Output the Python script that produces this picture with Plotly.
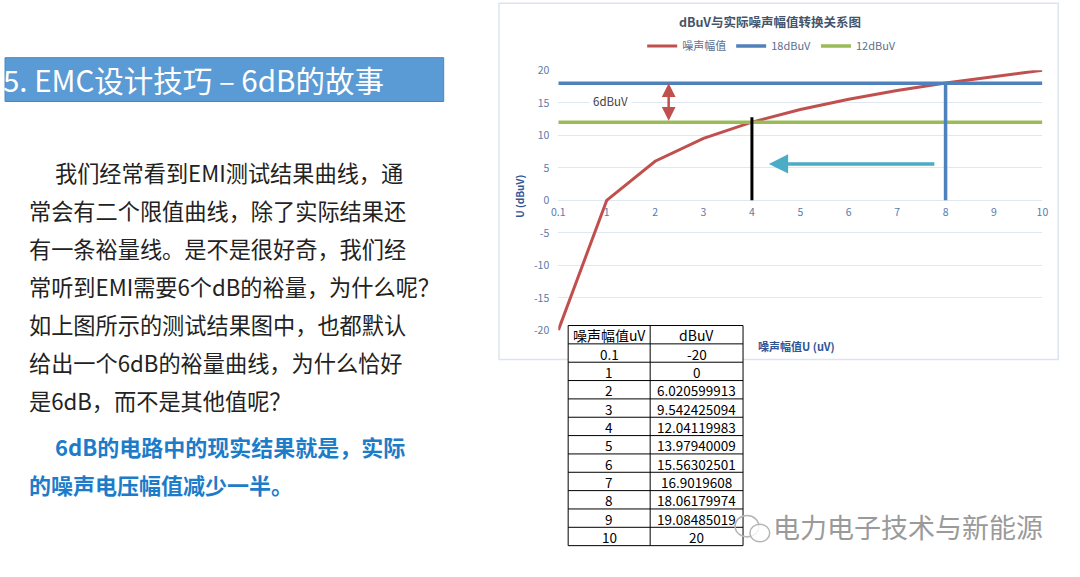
import plotly.graph_objects as go

# 数据：噪声幅值(uV) 与 dBuV
noise_uv = ["0.1", "1", "2", "3", "4", "5", "6", "7", "8", "9", "10"]
noise_dbuv = [-20, 0, 6.020599913, 9.542425094, 12.04119983, 13.97940009,
              15.56302501, 16.9019608, 18.06179974, 19.08485019, 20]
limit_18 = [18, 18, 18, 18, 18, 18, 18, 18, 18, 18, 18]
limit_12 = [12, 12, 12, 12, 12, 12, 12, 12, 12, 12, 12]
y_ticks = [20, 15, 10, 5, 0, -5, -10, -15, -20]
table_header = ["噪声幅值uV", "dBuV"]

# 两条竖线标记
mark_8_x = ["8", "8"]
mark_8_y = [0, 18]
mark_4_x = ["4", "4"]
mark_4_y = [0, 12.8]

W, H = 1080, 577
FONT = "Noto Sans CJK SC"


def px(x):
    return x / W


def py(y):
    return 1 - y / H


fig = go.Figure()

fig.add_trace(go.Scatter(x=noise_uv, y=noise_dbuv, mode="lines", name="噪声幅值",
                         line=dict(color="#c0504d", width=3)))
fig.add_trace(go.Scatter(x=noise_uv, y=limit_18, mode="lines", name="18dBuV",
                         line=dict(color="#4f81bd", width=3.5)))
fig.add_trace(go.Scatter(x=noise_uv, y=limit_12, mode="lines", name="12dBuV",
                         line=dict(color="#9bbb59", width=3.5)))
fig.add_trace(go.Scatter(x=mark_8_x, y=mark_8_y, mode="lines", showlegend=False,
                         line=dict(color="#4f81bd", width=3.5)))
fig.add_trace(go.Scatter(x=mark_4_x, y=mark_4_y, mode="lines", showlegend=False,
                         line=dict(color="#000000", width=3)))

tick_font = dict(family=FONT, size=10.5, color="#5b7ba6")
fig.update_xaxes(
    type="category", categoryorder="array", categoryarray=noise_uv,
    range=[0, 10], domain=[px(558), px(1048)],
    anchor="free", position=py(197.5),
    showgrid=False, showline=False, ticks="", zeroline=False,
    tickfont=tick_font, ticklabelstandoff=4,
)
fig.update_yaxes(
    range=[-20, 20], domain=[py(331), py(64)],
    tickvals=y_ticks, ticktext=[str(v) for v in y_ticks],
    showgrid=True, gridcolor="#dfe7f2", gridwidth=1,
    zeroline=False, showline=False, ticks="",
    tickfont=tick_font, ticklabelstandoff=8,
)

annotations = [
    # 图标题
    dict(text="<b>dBuV与实际噪声幅值转换关系图</b>", x=px(772), y=py(14),
         font=dict(size=12.5, color="#44546a")),
    # 坐标轴标题
    dict(text="<b>噪声幅值U (uV)</b>", x=px(799), y=py(347),
         font=dict(size=11, color="#2f5597")),
    dict(text="<b>U (dBuV)</b>", x=px(519), y=py(193), textangle=-90,
         font=dict(size=10, color="#2f5597")),
    # 左侧标题框
    dict(text="5. EMC设计技巧 – 6dB的故事", x=px(-6), y=py(73), xanchor="left",
         font=dict(size=29.5, color="white")),
    # 水印
    dict(text="电力电子技术与新能源", x=px(773), y=py(532), xanchor="left",
         font=dict(size=27, color="#9a9a9a")),
]
for a in annotations:
    a.update(xref="paper", yref="paper", showarrow=False, yanchor="middle")
    a.setdefault("xanchor", "center")
    a["font"].setdefault("family", FONT)

# 正文
body = [
    ("我们经常看到EMI测试结果曲线，通", 47, 168),
    ("常会有二个限值曲线，除了实际结果还", 20, 207),
    ("有一条裕量线。是不是很好奇，我们经", 20, 246),
    ("常听到EMI需要6个dB的裕量，为什么呢？", 20, 285),
    ("如上图所示的测试结果图中，也都默认", 20, 324),
    ("给出一个6dB的裕量曲线，为什么恰好", 20, 363),
    ("是6dB，而不是其他值呢？", 20, 402),
]
for txt, x, y in body:
    annotations.append(dict(text=txt, x=px(x), y=py(y), xref="paper", yref="paper",
                            xanchor="left", yanchor="middle", showarrow=False,
                            font=dict(family=FONT, size=22.2, color="#222222")))
highlight = [
    ("<b>6dB的电路中的现实结果就是，实际</b>", 47, 450),
    ("<b>的噪声电压幅值减少一半。</b>", 20, 489),
]
for txt, x, y in highlight:
    annotations.append(dict(text=txt, x=px(x), y=py(y), xref="paper", yref="paper",
                            xanchor="left", yanchor="middle", showarrow=False,
                            font=dict(family=FONT, size=22, color="#1c7cc9")))

# 图中标注与箭头
annotations += [
    dict(text="6dBuV", x=1.08, y=15.3, xref="x", yref="y", showarrow=False,
         bgcolor="white", borderpad=3,
         font=dict(family=FONT, size=11.5, color="#404040")),
    dict(x=2.28, y=18, ax=2.28, ay=12, xref="x", yref="y", axref="x", ayref="y",
         showarrow=True, arrowside="end+start", arrowhead=2, startarrowhead=2,
         arrowsize=1.1, startarrowsize=1.1, arrowwidth=2.5, arrowcolor="#c0504d", text=""),
    dict(x=4.35, y=5.6, ax=7.8, ay=5.6, xref="x", yref="y", axref="x", ayref="y",
         showarrow=True, arrowhead=2, arrowsize=1.1, arrowwidth=3.5,
         arrowcolor="#4bacc6", text=""),
]

shapes = [
    # 图表区边框
    dict(type="rect", xref="paper", yref="paper", x0=px(498), x1=px(1064),
         y0=py(361), y1=py(-5), line=dict(color="#dbe4f0", width=1.5), layer="below"),
    # 标题框
    dict(type="rect", xref="paper", yref="paper", x0=px(-2), x1=px(442),
         y0=py(96), y1=py(51), fillcolor="#5b9bd5",
         line=dict(color="#4a86bd", width=1), layer="below"),
]

# 表格（线框 + 文字）
tx0, tx_mid, tx1 = 568, 651, 745
ty0, ty1 = 326, 552
rows = [table_header] + [[u, str(d)] for u, d in zip(noise_uv, noise_dbuv)]
row_h = (ty1 - ty0) / len(rows)
shapes.append(dict(type="rect", xref="paper", yref="paper", x0=px(tx0), x1=px(tx1),
                   y0=py(ty1), y1=py(ty0), fillcolor="white",
                   line=dict(color="black", width=1)))
shapes.append(dict(type="line", xref="paper", yref="paper", x0=px(tx_mid), x1=px(tx_mid),
                   y0=py(ty1), y1=py(ty0), line=dict(color="black", width=1)))
for i, (c1, c2) in enumerate(rows):
    top = ty0 + i * row_h
    if i > 0:
        shapes.append(dict(type="line", xref="paper", yref="paper", x0=px(tx0), x1=px(tx1),
                           y0=py(top), y1=py(top), line=dict(color="black", width=1)))
    size = 14 if i == 0 else 13.5
    for txt, cx in ((c1, (tx0 + tx_mid) / 2), (c2, (tx_mid + tx1) / 2)):
        annotations.append(dict(text=txt, x=px(cx), y=py(top + row_h / 2 + 0.5),
                                xref="paper", yref="paper", xanchor="center",
                                yanchor="middle", showarrow=False,
                                font=dict(family=FONT, size=size, color="black")))

# 水印图标
shapes += [
    dict(type="circle", xref="paper", yref="paper", x0=px(737), x1=px(761),
         y0=py(543), y1=py(521), line=dict(color="#b5b5b5", width=1.5)),
    dict(type="circle", xref="paper", yref="paper", x0=px(752), x1=px(772),
         y0=py(548), y1=py(530), line=dict(color="#b5b5b5", width=1.5),
         fillcolor="rgba(255,255,255,0.8)"),
]

fig.update_layout(
    width=W, height=H,
    margin=dict(l=0, r=0, t=0, b=0),
    paper_bgcolor="white", plot_bgcolor="white",
    font=dict(family=FONT),
    showlegend=True,
    legend=dict(orientation="h", x=px(774), y=py(39), xanchor="center",
                yanchor="middle", itemwidth=30, bgcolor="rgba(0,0,0,0)",
                font=dict(family=FONT, size=11, color="#5b6f8f")),
    annotations=annotations,
    shapes=shapes,
)

fig.write_html("out.html", config={"displayModeBar": False},
               post_script="document.body.style.margin='0';"
                           "document.body.style.overflow='hidden';")
